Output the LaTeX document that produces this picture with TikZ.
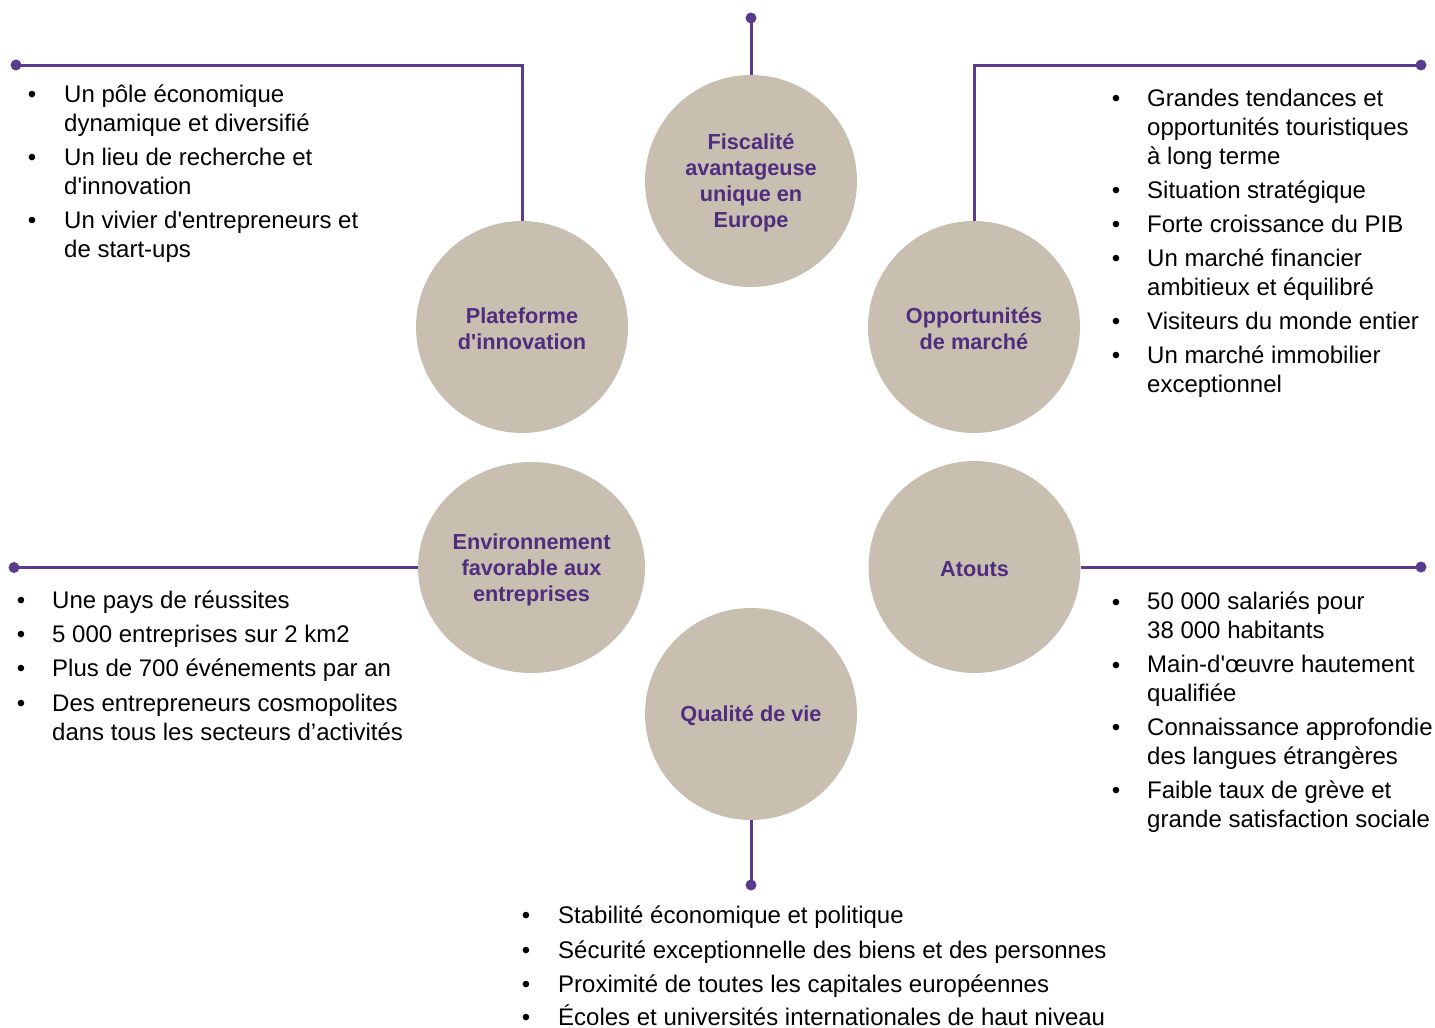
\documentclass[tikz,border=0pt]{standalone}
\usepackage{fontspec}
\setmainfont{Liberation Sans}[Ligatures=TeXOff]
\usetikzlibrary{shapes.geometric}
\definecolor{beige}{HTML}{C8BFB1}
\definecolor{purp}{HTML}{4F2D7F}
\definecolor{lpurp}{HTML}{5B3B8C}
\tikzset{
  circ/.style={circle, fill=beige, minimum size=212pt, inner sep=0pt},
  lab/.style={font=\bfseries\fontsize{21.7}{26}\selectfont, text=purp, align=center, yshift=-2pt, inner sep=0pt},
  item/.style={anchor=base west, inner sep=0pt, align=left, font=\fontsize{24}{29}\selectfont},
  bul/.style={anchor=base, inner sep=0pt, font=\fontsize{24}{29}\selectfont},
  link/.style={draw=lpurp, line width=3pt},
  dotend/.style={fill=lpurp}
}
\begin{document}
\begin{tikzpicture}[x=1pt,y=-1pt]
\useasboundingbox (0,0) rectangle (1435,1028);
% circles
\node[circ, label={[lab, name=l1]center:Fiscalité\\avantageuse\\unique en\\Europe}] (c1) at (751,181) {};
\node[circ, label={[lab, name=l2]center:Plateforme\\d'innovation}] (c2) at (522,327) {};
\node[circ, label={[lab, name=l3]center:Opportunités\\de marché}] (c3) at (974,327) {};
\node[circ, ellipse, minimum width=227pt, minimum height=211pt, label={[lab, name=l4]center:Environnement\\favorable aux\\entreprises}] (c4) at (531.5,567.5) {};
\node[circ, label={[lab, name=l5]center:Atouts}] (c5) at (974.5,567) {};
\node[circ, label={[lab, name=l6]center:Qualité de vie}] (c6) at (751,714) {};
% end points
\coordinate (d1) at (751,18);
\coordinate (d2) at (16,65);
\coordinate (d3) at (1421,65);
\coordinate (d4) at (14,567.5);
\coordinate (d5) at (1421,567);
\coordinate (d6) at (751,885);
% connectors
\draw[link] (d1) -- (c1.north);
\draw[link] (d2) -| (c2.north);
\draw[link] (d3) -| (c3.north);
\draw[link] (d4) -- (c4.west);
\draw[link] (d5) -- (c5.east);
\draw[link] (d6) -- (c6.south);
\foreach \d in {d1,d2,d3,d4,d5,d6} \fill[dotend] (\d) circle (5.5);
% left top (anchor = baseline of last line)
\node[bul] (b21) at (32,102) {•};
\node[item] (t21) at (64,131) {Un pôle économique\\dynamique et diversifié};
\node[bul] (b22) at (32,165) {•};
\node[item] (t22) at (64,194) {Un lieu de recherche et\\d'innovation};
\node[bul] (b23) at (32,228) {•};
\node[item] (t23) at (64,257) {Un vivier d'entrepreneurs et\\de start-ups};
% right top
\node[bul] (b31) at (1116,106) {•};
\node[item] (t31) at (1147,164) {Grandes tendances et\\opportunités touristiques\\à long terme};
\node[bul] (b32) at (1116,198) {•};
\node[item] (t32) at (1147,198) {Situation stratégique};
\node[bul] (b33) at (1116,232) {•};
\node[item] (t33) at (1147,232) {Forte croissance du PIB};
\node[bul] (b34) at (1116,266) {•};
\node[item] (t34) at (1147,295) {Un marché financier\\ambitieux et équilibré};
\node[bul] (b35) at (1116,329) {•};
\node[item] (t35) at (1147,329) {Visiteurs du monde entier};
\node[bul] (b36) at (1116,363) {•};
\node[item] (t36) at (1147,392) {Un marché immobilier\\exceptionnel};
% left bottom
\node[bul] (b41) at (21,608) {•};
\node[item] (t41) at (52,608) {Une pays de réussites};
\node[bul] (b42) at (21,642) {•};
\node[item] (t42) at (52,642) {5 000 entreprises sur 2 km2};
\node[bul] (b43) at (21,676) {•};
\node[item] (t43) at (52,676) {Plus de 700 événements par an};
\node[bul] (b44) at (21,711) {•};
\node[item] (t44) at (52,740) {Des entrepreneurs cosmopolites\\dans tous les secteurs d’activités};
% right bottom
\node[bul] (b51) at (1116,610) {•};
\node[item] (t51) at (1147,638) {50 000 salariés pour\\38 000 habitants};
\node[bul] (b52) at (1116,673) {•};
\node[item] (t52) at (1147,701) {Main-d'œuvre hautement\\qualifiée};
\node[bul] (b53) at (1116,735) {•};
\node[item] (t53) at (1147,764) {Connaissance approfondie\\des langues étrangères};
\node[bul] (b54) at (1116,798) {•};
\node[item] (t54) at (1147,827) {Faible taux de grève et\\grande satisfaction sociale};
% bottom
\node[bul] (b61) at (526,923) {•};
\node[item] (t61) at (558,923) {Stabilité économique et politique};
\node[bul] (b62) at (526,958) {•};
\node[item] (t62) at (558,958) {Sécurité exceptionnelle des biens et des personnes};
\node[bul] (b63) at (526,992) {•};
\node[item] (t63) at (558,992) {Proximité de toutes les capitales européennes};
\node[bul] (b64) at (526,1025) {•};
\node[item] (t64) at (558,1025) {Écoles et universités internationales de haut niveau};
\end{tikzpicture}
\end{document}
